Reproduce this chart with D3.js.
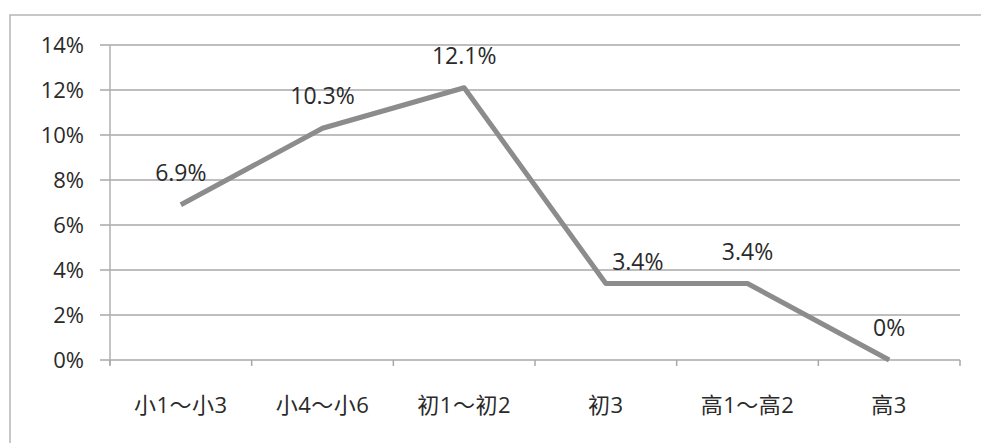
<!DOCTYPE html>
<html><head><meta charset="utf-8">
<script src="https://cdn.jsdelivr.net/npm/d3@7"></script>
<style>
html,body{margin:0;padding:0;background:#fff;}
text{font-family:"Open Sans","Noto Sans CJK SC",sans-serif;fill:#2a2a2a;}
</style></head>
<body>
<svg id="c" width="981" height="443"></svg>
<script>
const categories = ["小1～小3","小4～小6","初1～初2","初3","高1～高2","高3"];
const values = [6.9, 10.3, 12.1, 3.4, 3.4, 0];
const valueLabels = ["6.9%","10.3%","12.1%","3.4%","3.4%","0%"];
const yTicks = [0,2,4,6,8,10,12,14];

const svg = d3.select("#c");
const m = {left:110, right:960, top:45, bottom:360};

svg.append("rect").attr("x",10).attr("y",15).attr("width",1100).attr("height",600)
  .attr("fill","none").attr("stroke","#b5b5b5").attr("stroke-width",1.5);

const x = d3.scaleBand().domain(categories).range([m.left,m.right]);
const y = d3.scaleLinear().domain([0,14]).range([m.bottom,m.top]);
const cx = c => x(c) + x.bandwidth()/2;

// gridlines
svg.append("g").selectAll("line").data(yTicks).join("line")
  .attr("x1",100).attr("x2",m.right)
  .attr("y1",d=>y(d)).attr("y2",d=>y(d))
  .attr("stroke","#a8a8a8").attr("stroke-width",1.6);

// y axis line
svg.append("line").attr("x1",m.left).attr("x2",m.left).attr("y1",m.top).attr("y2",m.bottom+5)
  .attr("stroke","#b0b0b0").attr("stroke-width",1.5);

// y labels
svg.append("g").selectAll("text").data(yTicks).join("text")
  .attr("x",84).attr("y",d=>y(d)).attr("dy","0.36em")
  .attr("text-anchor","end").attr("font-size",22)
  .text(d=>d+"%");

// x axis ticks at band boundaries
const bounds = categories.map(c=>x(c)).concat([m.right]);
svg.append("g").selectAll("line").data(bounds).join("line")
  .attr("x1",d=>d).attr("x2",d=>d).attr("y1",m.bottom).attr("y2",m.bottom+6)
  .attr("stroke","#a8a8a8").attr("stroke-width",1.5);

// x labels
svg.append("g").selectAll("text").data(categories).join("text")
  .attr("x",d=>cx(d)).attr("y",413)
  .attr("text-anchor","middle").attr("font-size",22).attr("letter-spacing","0.5px")
  .text(d=>d);

// line
const line = d3.line().x((d,i)=>cx(categories[i])).y(d=>y(d));
svg.append("path").datum(values).attr("d",line)
  .attr("fill","none").attr("stroke","#8c8c8c").attr("stroke-width",5)
  .attr("stroke-linejoin","round");

// data labels (label nudge for the one label pushed aside by the line)
const nudge = (i) => i === 3 ? [32, 10] : [0, 0];
svg.append("g").selectAll("text").data(values).join("text")
  .attr("x",(d,i)=>cx(categories[i]) + nudge(i)[0])
  .attr("y",(d,i)=>y(d) - 24 + nudge(i)[1])
  .attr("text-anchor","middle").attr("font-size",23)
  .text((d,i)=>valueLabels[i]);
</script>
</body></html>
